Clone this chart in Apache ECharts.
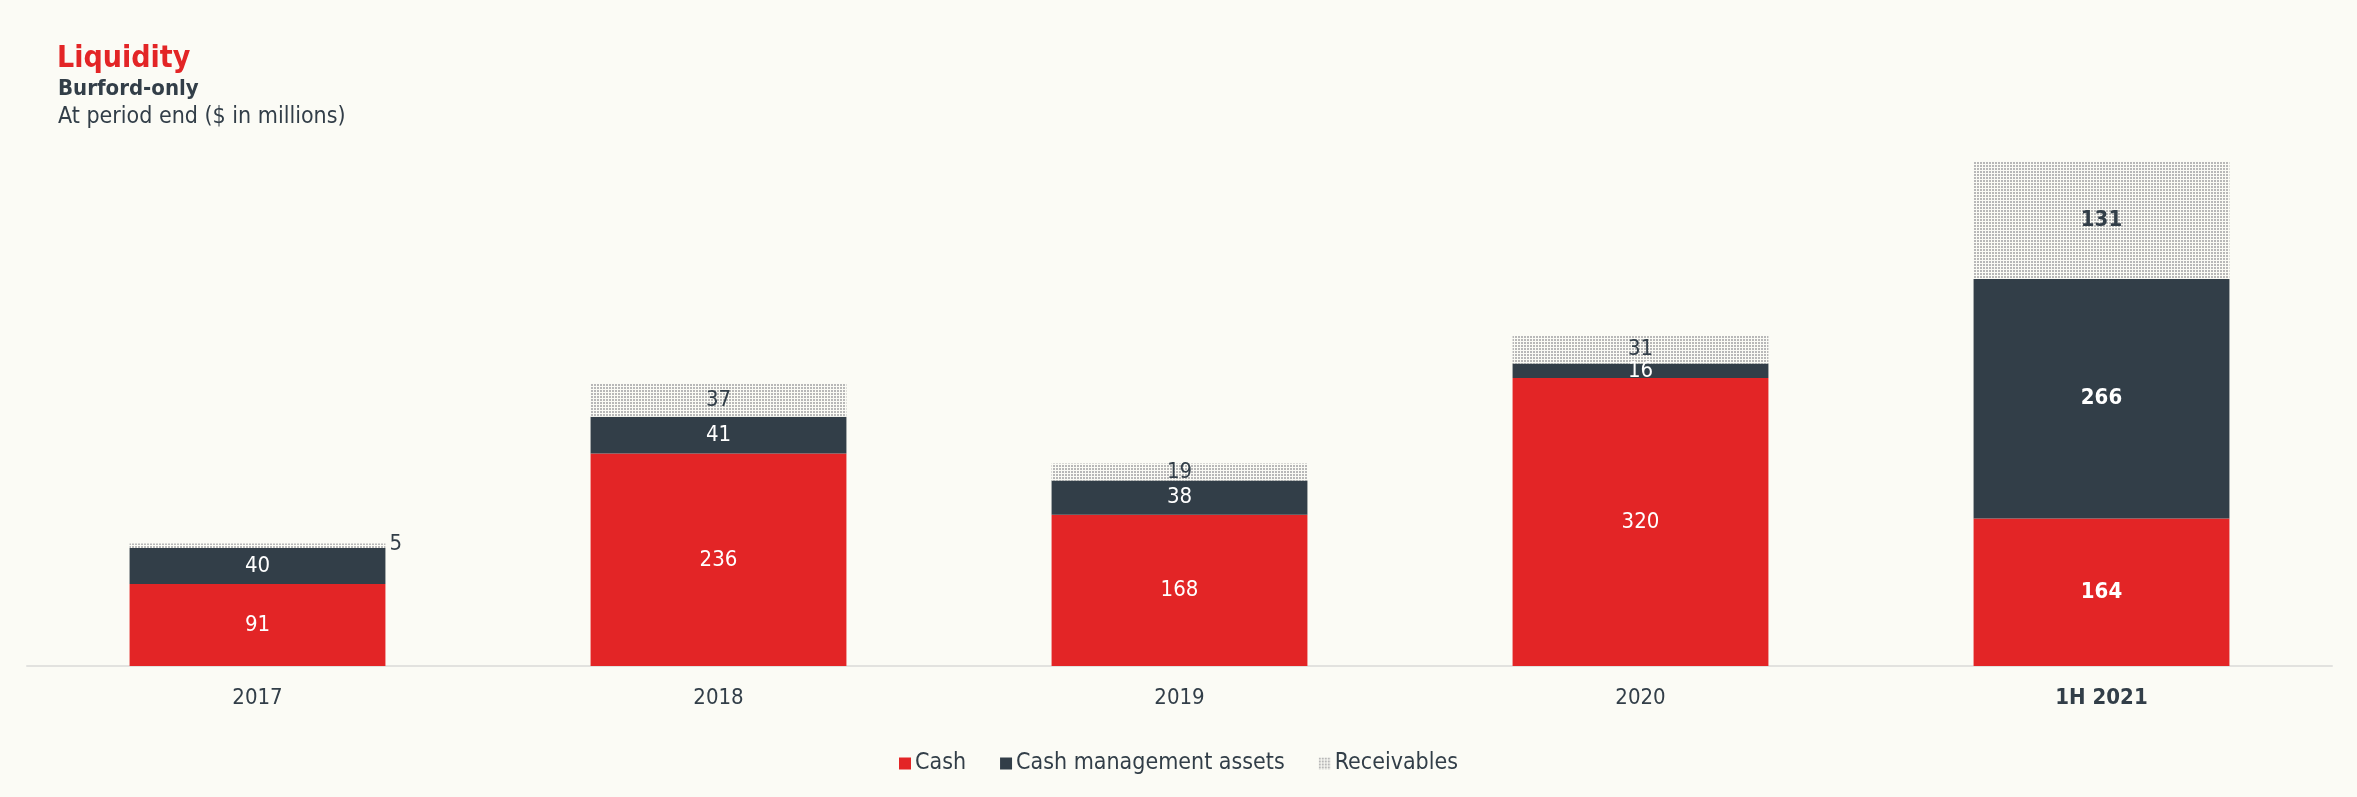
<!DOCTYPE html>
<html>
<head>
<meta charset="utf-8">
<script src="https://cdn.jsdelivr.net/npm/echarts@6/dist/echarts.min.js"></script>
<style>
  html, body { margin: 0; padding: 0; background: #fbfbf5; }
  #chart { width: 2357px; height: 797px; }
</style>
</head>
<body>
<div id="chart"></div>
<script>
const categories = ['2017', '2018', '2019', '2020', '1H 2021'];
const cash = [91, 236, 168, 320, 164];
const cashManagement = [40, 41, 38, 16, 266];
const receivables = [5, 37, 19, 31, 131];

const FONT = "'DejaVu Sans Condensed', 'Open Sans', sans-serif";
const RED = '#e32526';
const DARK = '#323e48';
const BG = '#fbfbf5';

// dotted pattern for receivables
const pc = document.createElement('canvas');
pc.width = 3; pc.height = 3;
const pctx = pc.getContext('2d');
pctx.fillStyle = BG; pctx.fillRect(0, 0, 3, 3);
pctx.fillStyle = '#b8b8b8'; pctx.fillRect(0, 0, 2, 2);
const dotPattern = { image: pc, repeat: 'repeat' };

const lastIdx = categories.length - 1;
function mk(values) {
  return values.map((v, i) => {
    const item = { value: v };
    if (i === lastIdx) item.label = { fontWeight: 'bold' };
    return item;
  });
}

const chart = echarts.init(document.getElementById('chart'), null, { renderer: 'canvas' });
chart.setOption({
  backgroundColor: BG,
  animation: false,
  title: [
    { text: 'Liquidity', left: 52, top: 39, textStyle: { fontFamily: FONT, fontSize: 30, fontWeight: 'bold', color: RED } },
    { text: 'Burford-only', left: 53, top: 73, textStyle: { fontFamily: FONT, fontSize: 22, fontWeight: 'bold', color: DARK } },
    { text: 'At period end ($ in millions)', left: 53, top: 101, textStyle: { fontFamily: FONT, fontSize: 23, fontWeight: 'normal', color: DARK } }
  ],
  legend: {
    bottom: 17,
    left: 'center',
    itemWidth: 12,
    itemHeight: 12,
    itemGap: 34,
    icon: 'rect',
    textStyle: { fontFamily: FONT, fontSize: 23, color: DARK, padding: [0, 0, 0, -1] },
    data: ['Cash', 'Cash management assets', 'Receivables']
  },
  grid: { left: 27, right: 25, top: 126, bottom: 131, containLabel: false },
  xAxis: {
    type: 'category',
    data: categories,
    axisTick: { show: false },
    axisLine: { lineStyle: { color: '#e2e2df', width: 2 } },
    axisLabel: {
      fontFamily: FONT, fontSize: 22, color: DARK, margin: 21,
      formatter: (v, i) => i === lastIdx ? '{b|' + v + '}' : v,
      rich: { b: { fontFamily: FONT, fontSize: 22, fontWeight: 'bold', color: DARK } }
    }
  },
  yAxis: { type: 'value', min: 0, max: 600, show: false, splitLine: { show: false } },
  series: [
    {
      name: 'Cash', type: 'bar', stack: 'total', barWidth: '55.5%',
      itemStyle: { color: RED },
      label: { show: true, position: 'inside', color: '#ffffff', fontFamily: FONT, fontSize: 22 },
      data: mk(cash)
    },
    {
      name: 'Cash management assets', type: 'bar', stack: 'total',
      itemStyle: { color: DARK },
      label: { show: true, position: 'inside', color: '#ffffff', fontFamily: FONT, fontSize: 22 },
      data: mk(cashManagement)
    },
    {
      name: 'Receivables', type: 'bar', stack: 'total',
      itemStyle: { color: dotPattern },
      label: { show: true, position: 'inside', color: DARK, fontFamily: FONT, fontSize: 22 },
      data: receivables.map((v, i) => {
        const item = { value: v };
        if (i === lastIdx) item.label = { fontWeight: 'bold' };
        if (i === 0) item.label = { position: 'right', distance: 4, offset: [0, -2] };
        return item;
      })
    }
  ]
});
</script>
</body>
</html>
